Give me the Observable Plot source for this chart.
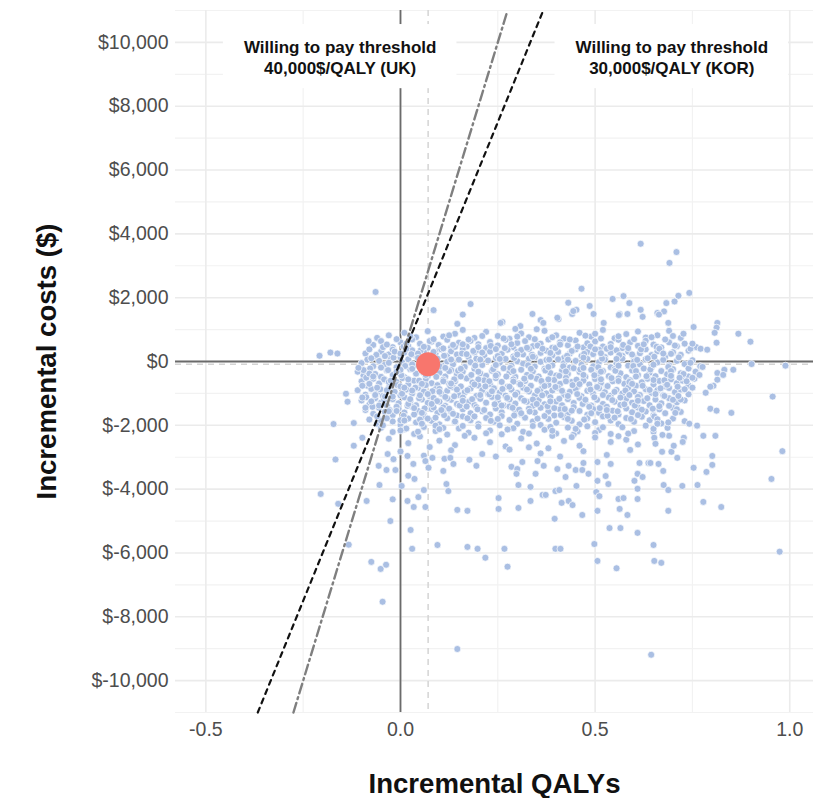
<!DOCTYPE html>
<html>
<head>
<meta charset="utf-8">
<script src="https://cdn.jsdelivr.net/npm/d3@7"></script>
<script src="https://cdn.jsdelivr.net/npm/@observablehq/plot@0.6"></script>
<style>
  html, body { margin: 0; padding: 0; background: #fff; }
  #chart svg { display: block; }
</style>
</head>
<body>
<div id="chart"></div>
<script>
// ---------------- DATA ----------------
const xMajorTicks = [-0.5, 0, 0.5, 1.0];
const xMinorTicks = [-0.25, 0.25, 0.75];
const yMajorTicks = [-10000, -8000, -6000, -4000, -2000, 0, 2000, 4000, 6000, 8000, 10000];
const yMinorTicks = [-11000, -9000, -7000, -5000, -3000, -1000, 1000, 3000, 5000, 7000, 9000, 11000];

const meanQaly = 0.071;
const meanCost = -85;

const wtpThresholds = [
  {name: "UK", wtp: 40000},
  {name: "KOR", wtp: 30000}
];

const thresholdLabels = [
  {q: -0.155, c: 9560, text: "Willing to pay threshold\n40,000$/QALY (UK)"},
  {q: 0.697, c: 9560, text: "Willing to pay threshold\n30,000$/QALY (KOR)"}
];

// dense cloud, estimated band by band: [incremental QALY, incremental cost]
const cloudBands = [
[-0.03,820],[0.01,900],[0.04,760],[0.07,950],[0.11,780],[0.14,870],[0.19,740],[0.22,930],[0.25,800],[0.28,710],[0.31,880],[0.33,760],[0.37,960],[0.40,820],[0.42,720],[0.46,900],[0.49,780],[0.52,990],[0.55,730],[0.58,860],[0.61,940],[0.63,750],[0.66,820],[0.69,960],[0.72,740],[-0.06,740],[0.16,990],[0.35,1010],[0.50,870],
[-0.07,520],[-0.05,640],[-0.02,450],[0.0,600],[0.02,480],[0.03,690],[0.05,560],[0.07,430],[0.08,620],[0.10,510],[0.12,680],[0.13,440],[0.15,590],[0.17,470],[0.18,650],[0.20,540],[0.22,420],[0.23,610],[0.25,500],[0.27,680],[0.29,450],[0.30,580],[0.32,640],[0.34,480],[0.36,560],[0.38,690],[0.39,430],[0.41,600],[0.43,510],[0.45,660],[0.47,440],[0.48,570],[0.50,630],[0.52,470],[0.54,550],[0.56,680],[0.57,420],[0.59,600],[0.61,490],[0.63,650],[0.65,530],[0.67,440],[0.69,600],[0.71,480],[0.73,560],[0.76,450],
[-0.09,250],[-0.08,380],[-0.06,150],[-0.05,310],[-0.03,220],[-0.02,370],[0.0,130],[0.01,280],[0.03,350],[0.04,180],[0.06,300],[0.075,120],[0.09,250],[0.10,380],[0.12,170],[0.13,320],[0.145,220],[0.16,390],[0.175,140],[0.19,280],[0.20,360],[0.215,190],[0.23,310],[0.245,110],[0.26,240],[0.275,370],[0.29,160],[0.30,300],[0.315,220],[0.33,390],[0.345,130],[0.36,270],[0.375,340],[0.39,190],[0.405,300],[0.42,110],[0.435,250],[0.45,380],[0.465,170],[0.48,300],[0.495,230],[0.51,370],[0.525,140],[0.54,280],[0.555,350],[0.57,180],[0.585,310],[0.60,120],[0.615,260],[0.63,380],[0.645,200],[0.66,320],[0.68,150],[0.70,290],[0.72,210],[0.74,340],
[-0.10,-50],[-0.085,60],[-0.07,-150],[-0.055,20],[-0.04,-100],[-0.025,80],[-0.01,-180],[0.005,-30],[0.02,70],[0.035,-130],[0.05,40],[0.06,-190],[0.08,-60],[0.095,90],[0.11,-140],[0.12,0],[0.135,-90],[0.15,60],[0.165,-170],[0.18,-20],[0.195,90],[0.21,-110],[0.225,30],[0.24,-180],[0.255,-40],[0.27,80],[0.285,-130],[0.30,10],[0.315,-70],[0.33,90],[0.345,-160],[0.36,-10],[0.375,50],[0.39,-120],[0.405,70],[0.42,-50],[0.435,-190],[0.45,20],[0.465,-100],[0.48,80],[0.495,-150],[0.51,-20],[0.525,60],[0.54,-180],[0.555,-60],[0.57,90],[0.585,-130],[0.60,0],[0.615,-90],[0.63,70],[0.645,-170],[0.66,-30],[0.675,50],[0.69,-120],[0.71,20],[0.73,-80],[0.75,40],[0.77,-150],
[-0.11,-320],[-0.095,-440],[-0.08,-250],[-0.065,-390],[-0.05,-480],[-0.035,-280],[-0.02,-420],[-0.005,-330],[0.01,-490],[0.025,-240],[0.04,-380],[0.055,-300],[0.07,-460],[0.085,-220],[0.10,-350],[0.115,-470],[0.13,-270],[0.145,-410],[0.16,-320],[0.175,-490],[0.19,-230],[0.205,-370],[0.22,-450],[0.235,-290],[0.25,-400],[0.265,-210],[0.28,-340],[0.295,-480],[0.31,-260],[0.325,-420],[0.34,-310],[0.355,-470],[0.37,-230],[0.385,-360],[0.40,-440],[0.415,-280],[0.43,-390],[0.445,-210],[0.46,-330],[0.475,-480],[0.49,-260],[0.505,-410],[0.52,-300],[0.535,-460],[0.55,-240],[0.565,-370],[0.58,-490],[0.595,-280],[0.61,-420],[0.625,-220],[0.64,-350],[0.655,-460],[0.67,-300],[0.685,-400],[0.70,-240],[0.72,-370],[0.74,-470],[0.76,-330],
[-0.10,-620],[-0.085,-760],[-0.07,-540],[-0.055,-690],[-0.04,-580],[-0.025,-780],[-0.01,-640],[0.005,-520],[0.02,-720],[0.035,-600],[0.05,-790],[0.065,-550],[0.08,-680],[0.095,-740],[0.11,-570],[0.125,-700],[0.14,-620],[0.155,-780],[0.17,-530],[0.185,-660],[0.20,-750],[0.215,-590],[0.23,-710],[0.245,-520],[0.26,-640],[0.275,-790],[0.29,-560],[0.305,-690],[0.32,-610],[0.335,-760],[0.35,-540],[0.365,-670],[0.38,-730],[0.395,-580],[0.41,-700],[0.425,-510],[0.44,-640],[0.455,-780],[0.47,-600],[0.485,-720],[0.50,-550],[0.515,-670],[0.53,-790],[0.545,-620],[0.56,-530],[0.575,-700],[0.59,-590],[0.605,-760],[0.62,-650],[0.635,-540],[0.65,-720],[0.665,-610],[0.68,-780],[0.695,-560],[0.71,-680],[0.725,-600],[0.74,-750],[0.755,-540],
[-0.11,-900],[-0.09,-1040],[-0.075,-860],[-0.06,-980],[-0.045,-1080],[-0.03,-820],[-0.015,-950],[0.0,-1060],[0.015,-880],[0.03,-1000],[0.045,-830],[0.06,-940],[0.075,-1090],[0.09,-870],[0.105,-1010],[0.12,-920],[0.135,-810],[0.15,-1050],[0.165,-960],[0.18,-850],[0.195,-1080],[0.21,-900],[0.225,-1020],[0.24,-840],[0.255,-970],[0.27,-1070],[0.285,-880],[0.30,-990],[0.315,-820],[0.33,-940],[0.345,-1060],[0.36,-870],[0.375,-1000],[0.39,-910],[0.405,-830],[0.42,-1040],[0.435,-950],[0.45,-860],[0.465,-1090],[0.48,-920],[0.495,-1010],[0.51,-840],[0.525,-960],[0.54,-1070],[0.555,-890],[0.57,-1000],[0.585,-820],[0.60,-940],[0.615,-1050],[0.63,-870],[0.645,-980],[0.66,-900],[0.675,-1060],[0.69,-830],[0.705,-960],[0.72,-880],[0.74,-1030],
[-0.10,-1220],[-0.08,-1350],[-0.065,-1150],[-0.05,-1290],[-0.035,-1380],[-0.02,-1180],[-0.005,-1310],[0.01,-1120],[0.025,-1250],[0.04,-1370],[0.055,-1190],[0.07,-1300],[0.085,-1140],[0.10,-1260],[0.115,-1390],[0.13,-1200],[0.145,-1330],[0.16,-1130],[0.175,-1270],[0.19,-1360],[0.205,-1170],[0.22,-1290],[0.235,-1110],[0.25,-1240],[0.265,-1380],[0.28,-1190],[0.295,-1320],[0.31,-1150],[0.325,-1260],[0.34,-1390],[0.355,-1210],[0.37,-1340],[0.385,-1120],[0.40,-1250],[0.415,-1370],[0.43,-1180],[0.445,-1300],[0.46,-1140],[0.475,-1270],[0.49,-1380],[0.505,-1200],[0.52,-1330],[0.535,-1130],[0.55,-1260],[0.565,-1360],[0.58,-1170],[0.595,-1290],[0.61,-1110],[0.625,-1240],[0.64,-1370],[0.655,-1190],[0.67,-1310],[0.69,-1150],[0.71,-1280],[0.73,-1220],
[-0.09,-1520],[-0.07,-1640],[-0.055,-1450],[-0.04,-1580],[-0.02,-1680],[-0.005,-1480],[0.01,-1600],[0.03,-1420],[0.045,-1550],[0.06,-1670],[0.08,-1490],[0.095,-1610],[0.11,-1440],[0.13,-1570],[0.145,-1690],[0.16,-1500],[0.18,-1620],[0.195,-1430],[0.21,-1560],[0.23,-1660],[0.245,-1470],[0.26,-1590],[0.28,-1410],[0.295,-1540],[0.31,-1650],[0.33,-1480],[0.345,-1600],[0.36,-1450],[0.38,-1570],[0.395,-1690],[0.41,-1500],[0.43,-1630],[0.445,-1430],[0.46,-1550],[0.48,-1670],[0.495,-1490],[0.51,-1610],[0.53,-1420],[0.545,-1540],[0.56,-1660],[0.58,-1470],[0.595,-1590],[0.61,-1440],[0.63,-1570],[0.65,-1680],[0.665,-1500],[0.68,-1620],[0.70,-1460],[0.72,-1580],
[-0.08,-1820],[-0.06,-1950],[-0.04,-1760],[-0.02,-1880],[0.0,-1990],[0.02,-1790],[0.04,-1910],[0.06,-1730],[0.08,-1860],[0.10,-1970],[0.12,-1780],[0.14,-1900],[0.16,-1720],[0.18,-1840],[0.20,-1960],[0.22,-1770],[0.24,-1890],[0.26,-1710],[0.28,-1830],[0.30,-1950],[0.32,-1760],[0.34,-1880],[0.36,-1990],[0.38,-1800],[0.40,-1920],[0.42,-1740],[0.44,-1860],[0.46,-1970],[0.48,-1780],[0.50,-1900],[0.52,-1720],[0.54,-1850],[0.56,-1960],[0.58,-1770],[0.60,-1890],[0.62,-1730],[0.64,-1840],[0.67,-1940],[0.70,-1790],[0.73,-1870],
[-0.05,-2080],[-0.02,-2210],[0.01,-2120],[0.035,-2270],[0.06,-2050],[0.09,-2180],[0.12,-2290],[0.15,-2100],[0.175,-2230],[0.20,-2040],[0.23,-2160],[0.26,-2280],[0.29,-2090],[0.315,-2200],[0.34,-2020],[0.37,-2140],[0.40,-2260],[0.43,-2070],[0.455,-2190],[0.48,-2030],[0.51,-2150],[0.54,-2270],[0.57,-2060],[0.60,-2180],[0.63,-2010],[0.255,-2000],[0.445,-2290],[0.09,-2010],[0.50,-2240],[0.385,-2050],
[-0.03,-2420],[0.02,-2560],[0.05,-2350],[0.10,-2480],[0.14,-2620],[0.19,-2390],[0.23,-2530],[0.27,-2660],[0.31,-2410],[0.35,-2570],[0.39,-2330],[0.42,-2490],[0.46,-2640],[0.50,-2380],[0.54,-2520],[0.58,-2450],[0.61,-2600],[0.33,-2690],[0.075,-2680],[0.165,-2330],[0.44,-2370],[0.56,-2340],
[0.0,-2820],[0.06,-2950],[0.13,-2780],[0.21,-2900],[0.28,-2760],[0.36,-2880],[0.41,-2980],[0.47,-2810],[0.53,-2930],[0.59,-2770],[0.245,-2980],[0.38,-2720]
];

// second layer filling the gaps in the dense core
const cloudCore = [
[0.008,470],[0.052,350],[0.098,520],[0.14,460],[0.187,330],[0.232,490],[0.268,420],[0.31,360],[0.352,500],[0.398,420],[0.44,330],[0.488,470],[0.53,400],[0.572,520],[0.618,380],[0.658,460],
[-0.062,210],[-0.018,120],[0.028,230],[0.068,40],[0.112,180],[0.158,250],[0.205,60],[0.25,170],[0.292,110],[0.338,210],[0.382,60],[0.428,180],[0.472,240],[0.518,90],[0.562,200],[0.608,50],[0.652,150],[0.695,240],
[-0.078,-220],[-0.032,-270],[0.012,-140],[0.058,-250],[0.102,-160],[0.148,-290],[0.192,-130],[0.238,-240],[0.282,-200],[0.328,-120],[0.372,-280],[0.418,-150],[0.462,-250],[0.508,-180],[0.552,-290],[0.598,-140],[0.642,-250],[0.688,-170],
[-0.088,-510],[-0.042,-560],[0.002,-430],[0.048,-600],[0.092,-480],[0.138,-560],[0.182,-420],[0.228,-620],[0.272,-470],[0.318,-540],[0.362,-610],[0.408,-450],[0.452,-570],[0.498,-430],[0.542,-520],[0.588,-640],[0.632,-460],[0.678,-590],[0.722,-500],
[-0.098,-760],[-0.052,-870],[-0.008,-740],[0.038,-820],[0.082,-930],[0.128,-770],[0.172,-900],[0.218,-780],[0.262,-860],[0.308,-720],[0.352,-920],[0.398,-800],[0.442,-740],[0.488,-880],[0.532,-770],[0.578,-910],[0.622,-760],[0.668,-840],[0.712,-790],
[-0.088,-1120],[-0.042,-1200],[0.004,-1010],[0.048,-1150],[0.094,-1240],[0.138,-1090],[0.184,-1180],[0.228,-1030],[0.274,-1140],[0.318,-1230],[0.364,-1060],[0.408,-1170],[0.454,-1020],[0.498,-1120],[0.544,-1210],[0.588,-1050],[0.634,-1150],[0.678,-1080],[0.72,-1190],
[-0.072,-1420],[-0.028,-1520],[0.018,-1390],[0.062,-1470],[0.108,-1560],[0.152,-1380],[0.198,-1500],[0.242,-1340],[0.288,-1450],[0.332,-1570],[0.378,-1400],[0.422,-1490],[0.468,-1330],[0.512,-1460],[0.558,-1560],[0.602,-1380],[0.648,-1480],[0.69,-1390],
[-0.05,-1850],[0.008,-1700],[0.05,-1820],[0.112,-1680],[0.172,-1780],[0.232,-1860],[0.292,-1690],[0.352,-1790],[0.412,-1680],[0.472,-1820],[0.532,-1700],[0.592,-1800],[0.652,-1720],
[-0.045,450],[-0.015,310],[0.015,560],[0.045,250],[0.075,640],[0.105,380],[0.135,520],[-0.03,-40],[0.0,-260],[0.03,-90],[0.06,-350],[0.09,-200],[0.125,-300],[-0.06,-820],[-0.03,-640],[0.0,-780],[0.03,-910],[0.065,-740],[0.1,-860],[0.13,-690],[-0.075,-1250],[-0.04,-1100],[-0.01,-1420],[0.02,-1330],[0.05,-1060],[0.085,-1440],[0.12,-1160],[-0.06,-1720],[-0.03,-1560],[0.0,-1840],[0.035,-1660],[0.07,-1790],[0.105,-1520],[0.14,-1880],[-0.045,-2000],[0.015,-2100],[0.055,-1950],[0.11,-2080],[-0.08,-380],[-0.09,-1450]
];

// third layer, more core points read from the densest area
const cloudCoreExtra = [
[0.025,790],[0.085,700],[0.125,820],[0.175,690],[0.21,800],[0.265,720],[0.3,780],[0.345,700],[0.39,760],[0.435,690],[0.475,810],[0.515,720],[0.56,790],[0.6,700],[0.645,760],[0.68,690],[-0.01,700],[0.7,800],
[-0.035,530],[0.015,400],[0.06,460],[0.11,410],[0.16,540],[0.2,450],[0.245,390],[0.285,540],[0.325,430],[0.365,400],[0.41,530],[0.455,470],[0.5,380],[0.54,450],[0.585,420],[0.625,540],[0.665,400],[0.705,500],[0.745,400],
[-0.075,100],[-0.04,170],[0.0,250],[0.045,110],[0.085,300],[0.13,60],[0.17,230],[0.21,280],[0.255,80],[0.3,220],[0.34,150],[0.385,270],[0.43,60],[0.47,120],[0.515,260],[0.555,80],[0.595,220],[0.635,100],[0.675,250],[0.715,130],
[-0.095,-270],[-0.05,-190],[-0.01,-320],[0.03,-230],[0.07,-300],[0.115,-200],[0.155,-230],[0.2,-320],[0.245,-110],[0.29,-300],[0.335,-230],[0.38,-170],[0.425,-310],[0.47,-200],[0.515,-320],[0.56,-130],[0.605,-300],[0.65,-100],[0.695,-300],[0.74,-220],
[-0.07,-470],[-0.025,-600],[0.02,-560],[0.065,-420],[0.11,-620],[0.155,-470],[0.2,-560],[0.245,-440],[0.29,-630],[0.335,-480],[0.38,-560],[0.425,-620],[0.47,-420],[0.515,-560],[0.56,-610],[0.605,-470],[0.65,-580],[0.695,-450],[0.735,-620],
[-0.08,-700],[-0.035,-900],[0.01,-820],[0.055,-700],[0.1,-950],[0.145,-880],[0.19,-720],[0.235,-930],[0.28,-790],[0.325,-880],[0.37,-770],[0.415,-920],[0.46,-710],[0.505,-800],[0.55,-950],[0.595,-700],[0.64,-890],[0.685,-730],[0.73,-870],
[-0.065,-1050],[-0.02,-1100],[0.025,-1180],[0.07,-1020],[0.115,-1110],[0.16,-1230],[0.205,-1050],[0.25,-1120],[0.295,-1040],[0.34,-1190],[0.385,-1250],[0.43,-1080],[0.475,-1200],[0.52,-1050],[0.565,-1130],[0.61,-1230],[0.655,-1020],[0.7,-1200],
[-0.055,-1380],[-0.01,-1550],[0.035,-1460],[0.08,-1330],[0.125,-1480],[0.17,-1410],[0.215,-1520],[0.26,-1380],[0.305,-1510],[0.35,-1330],[0.395,-1460],[0.44,-1540],[0.485,-1420],[0.53,-1520],[0.575,-1340],[0.62,-1510],[0.665,-1400],[0.71,-1500],
[-0.035,-1780],[0.01,-1850],[0.055,-1610],[0.09,-1760],[0.135,-1640],[0.19,-1720],[0.25,-1800],[0.31,-1620],[0.37,-1710],[0.43,-1800],[0.49,-1620],[0.55,-1760],[0.61,-1680],[0.66,-1810],
[0.0,-2160],[0.045,-2200],[0.1,-2120],[0.16,-2020],[0.22,-2250],[0.275,-2130],[0.33,-2260],[0.39,-2170],[0.45,-2110],[0.52,-2060],[0.585,-2260],[0.65,-2200]
];

// scattered points above the cloud and to its right
const upperPoints = [
[-0.064,2180],[0.085,1610],[0.18,1800],[0.16,1470],[-0.208,180],[-0.18,280],[-0.162,250],[-0.082,640],[-0.108,-200],
[0.617,3690],[0.709,3430],[0.691,3090],[0.742,2150],[0.714,2060],[0.704,1880],[0.683,1830],[0.66,1520],[0.677,1570],[0.688,1210],
[0.465,2280],[0.431,1840],[0.486,1740],[0.452,1620],[0.441,1490],[0.339,1490],[0.545,1960],[0.573,2050],[0.588,1830],[0.563,1490],[0.583,1490],[0.617,1620],[0.664,1470],
[0.622,1400],[0.406,1330],[0.262,1240],[0.308,1110],[0.36,1300],[0.146,1180],[0.257,1210],[0.295,1020],[0.367,1210],[0.403,1370],[0.444,1580],[0.496,1490],[0.522,1210],[0.561,1460],
[0.753,1080],[0.814,1210],[0.812,1060],[0.807,900],[0.812,590],[0.868,870],[0.899,620],[0.902,-80],[0.989,-130],[0.771,400],[0.788,370],[0.776,-170],[0.832,-260],[0.855,-260],[0.814,-360],[0.829,-420],[0.814,-570],[0.804,-760],[0.796,-790],[0.784,-980],[0.75,-820],[0.956,-1100],[0.796,-1480],[0.812,-1540],[0.85,-1610],[0.727,870],[0.75,560],[0.745,-40],[0.758,-320],[0.768,-420],[0.75,-510],[0.727,-390],[0.717,-510],[0.714,-1080],[0.706,-1610]
];

// scattered points below the cloud
const lowerPoints = [
[-0.14,-1010],[-0.136,-1260],[-0.098,-1130],[-0.172,-1960],[-0.12,-1930],
[-0.167,-3070],[-0.12,-2640],[-0.098,-2390],[-0.054,-3870],[-0.16,-4460],[-0.087,-4370],[-0.026,-5000],[-0.02,-4320],[-0.133,-5740],[-0.075,-6280],[-0.051,-6500],[-0.037,-6370],[-0.046,-7530],[-0.205,-4150],
[0.026,-5280],[0.03,-5870],[0.095,-5750],[0.172,-5810],[0.198,-5870],[0.218,-6150],[0.018,-4370],[0.034,-4560],[0.064,-4560],[0.046,-4250],[0.06,-4030],[0.146,-4650],[0.172,-4680],[0.252,-4620],[0.252,-4280],[0.003,-3900],[0.02,-3580],[0.036,-3680],[0.118,-3840],[0.123,-4060],[0.11,-3430],[-0.018,-3060],[-0.033,-2900],[-0.056,-3270],[-0.036,-3400],[-0.013,-3400],[0.018,-2960],[0.033,-3210],[0.064,-3120],[0.072,-3330],[0.082,-3020],[0.113,-3050],[0.128,-3020],[0.136,-3210],[0.177,-3080],[0.195,-3270],
[0.303,-4590],[0.334,-4370],[0.365,-4180],[0.373,-4180],[0.398,-4060],[0.408,-4030],[0.414,-4430],[0.432,-4370],[0.442,-4500],[0.396,-4930],[0.467,-4810],[0.503,-4090],[0.511,-4220],[0.506,-4680],[0.56,-4310],[0.573,-4280],[0.563,-4620],[0.583,-4810],[0.609,-4310],[0.609,-3990],[0.537,-5220],[0.565,-5220],[0.609,-5370],[0.267,-5870],[0.275,-6430],[0.398,-5870],[0.411,-5870],[0.498,-5720],[0.506,-6250],[0.555,-6480],[0.65,-5750],[0.652,-6250],
[0.285,-3300],[0.3,-3370],[0.313,-3150],[0.298,-3520],[0.303,-3870],[0.334,-3930],[0.347,-3520],[0.352,-3120],[0.368,-3270],[0.403,-3370],[0.424,-3620],[0.432,-3270],[0.452,-3900],[0.45,-3400],[0.467,-3400],[0.47,-3180],[0.483,-3520],[0.506,-3740],[0.506,-3150],[0.527,-3590],[0.54,-3210],[0.534,-3840],[0.601,-3740],[0.609,-3520],[0.614,-3180],[0.622,-3620],[0.637,-3180],[0.663,-3210],
[0.981,-2810],[0.953,-3680],[0.974,-5960],[0.67,-6310],[0.778,-2330],[0.809,-2330],[0.801,-2960],[0.801,-3240],[0.786,-3460],[0.753,-3330],[0.763,-3870],[0.724,-3900],[0.676,-3870],[0.688,-4030],[0.675,-3430],[0.778,-4400],[0.824,-4560],[0.688,-4680],[0.711,-3020],[0.696,-2830],[0.672,-2830],[0.702,-2640],[0.728,-2390],[0.725,-2520],[0.69,-2330],[0.673,-2300],[0.652,-2390],[0.655,-2580],[0.65,-2110],[0.66,-1950],[0.686,-2080],[0.688,-1910],[0.742,-1950],[0.762,-2010],[0.642,-3180],
[0.146,-9010],[0.644,-9190]
];

// ---------------- CHART ----------------
const xDomain = [-0.578, 1.061];
const yDomain = [-11000, 11000];

const points = [...cloudBands, ...cloudCore, ...cloudCoreExtra, ...upperPoints, ...lowerPoints].map(([q, c]) => ({q, c}));

const thresholdLines = wtpThresholds.map(t => ({
  name: t.name,
  pts: [{q: yDomain[0] / t.wtp, c: yDomain[0]}, {q: yDomain[1] / t.wtp, c: yDomain[1]}]
}));
const ukLine = thresholdLines.find(d => d.name === "UK").pts;
const korLine = thresholdLines.find(d => d.name === "KOR").pts;

const fmtCost = d => (d < 0 ? "$-" : "$") + d3.format(",")(Math.abs(d));
const fmtQaly = d => d.toFixed(1);

const chart = Plot.plot({
  width: 813,
  height: 798,
  marginLeft: 175,
  marginRight: 0,
  marginTop: 10,
  marginBottom: 86,
  x: {domain: xDomain, label: null},
  y: {domain: yDomain, label: null},
  style: {fontFamily: "'Liberation Sans', Arial, Helvetica, sans-serif", background: "#ffffff", color: "#4D4D4D"},
  marks: [
    // grid
    Plot.ruleX(xMinorTicks, {stroke: "#F2F2F2", strokeWidth: 1.2}),
    Plot.ruleY(yMinorTicks, {stroke: "#F2F2F2", strokeWidth: 1.2}),
    Plot.ruleX(xMajorTicks, {stroke: "#EBEBEB", strokeWidth: 1.6}),
    Plot.ruleY(yMajorTicks, {stroke: "#EBEBEB", strokeWidth: 1.6}),
    // axes (labels only)
    Plot.axisX(xMajorTicks, {tickSize: 0, tickPadding: 10, fontSize: 19.5, tickFormat: fmtQaly, label: null}),
    Plot.axisY(yMajorTicks, {tickSize: 0, tickPadding: 7, fontSize: 19.5, tickFormat: fmtCost, label: null}),
    // zero lines
    Plot.ruleX([0], {stroke: "#6B6B6B", strokeWidth: 1.8}),
    Plot.ruleY([0], {stroke: "#6B6B6B", strokeWidth: 1.8}),
    // mean lines
    Plot.ruleX([meanQaly], {stroke: "#D4D4D4", strokeWidth: 1.5, strokeDasharray: "6,5"}),
    Plot.ruleY([meanCost], {stroke: "#D4D4D4", strokeWidth: 1.5, strokeDasharray: "6,5"}),
    // simulations
    Plot.dot(points, {x: "q", y: "c", r: 3.5, fill: "#AABFE3", stroke: "#ffffff", strokeWidth: 0.7}),
    // mean point
    Plot.dot([{q: meanQaly, c: meanCost}], {x: "q", y: "c", r: 12, fill: "#F8766D"}),
    // WTP lines
    Plot.line(ukLine, {x: "q", y: "c", stroke: "#7F7F7F", strokeWidth: 2.4, strokeDasharray: "10,4,2,4"}),
    Plot.line(korLine, {x: "q", y: "c", stroke: "#111111", strokeWidth: 2.2, strokeDasharray: "5,5"}),
    // label boxes and texts
    Plot.rect(thresholdLabels, {x1: d => d.q - 0.30, x2: d => d.q + 0.30, y1: d => d.c - 1010, y2: d => d.c + 1000, fill: "#ffffff"}),
    Plot.text(thresholdLabels, {x: "q", y: "c", text: "text", fontSize: 17, fontWeight: "bold", lineHeight: 1.235, fill: "#111111"}),
    // axis titles
    Plot.text(["Incremental QALYs"], {text: d => d, frameAnchor: "bottom", textAnchor: "middle", lineAnchor: "bottom", dy: 80, fontSize: 27.6, fontWeight: "bold", fill: "#111111"}),
    Plot.text(["Incremental costs ($)"], {text: d => d, frameAnchor: "left", textAnchor: "middle", lineAnchor: "bottom", rotate: -90, dx: -120, fontSize: 27.6, fontWeight: "bold", fill: "#111111"})
  ]
});

document.getElementById("chart").appendChild(chart);
</script>
</body>
</html>
